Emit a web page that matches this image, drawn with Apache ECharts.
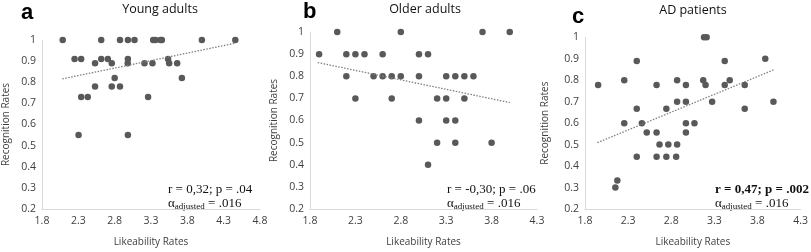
<!DOCTYPE html>
<html>
<head>
<meta charset="utf-8">
<script src="https://cdn.jsdelivr.net/npm/echarts@6/dist/echarts.min.js"></script>
<style>
  html, body { margin: 0; padding: 0; background: #fff; }
  #chart { width: 811px; height: 252px; }
</style>
</head>
<body>
<div id="chart"></div>
<script>
// panel a - young adults
var youngX = [2.085, 2.615, 2.873, 2.982, 3.073, 3.33, 3.36, 3.43, 3.45, 4.0, 4.46,
  2.248, 2.339, 2.615, 2.706, 2.982, 3.535,
  2.53, 2.76, 2.98, 3.21, 3.32, 3.55, 3.66,
  2.80, 3.725,
  2.53, 2.76, 2.873,
  2.339, 2.43, 3.26,
  2.303, 2.982];
var youngY = [1, 1, 1, 1, 1, 1, 1, 1, 1, 1, 1,
  0.91, 0.91, 0.91, 0.91, 0.91, 0.91,
  0.89, 0.89, 0.89, 0.89, 0.89, 0.89, 0.89,
  0.82, 0.82,
  0.78, 0.78, 0.78,
  0.73, 0.73, 0.73,
  0.55, 0.55];
var youngTrendX = [2.08, 4.46];
var youngTrendY = [0.816, 0.985];

// panel b - older adults
var olderX = [2.1, 2.8, 3.7, 4.0,
  1.9, 2.2, 2.3, 2.4, 2.6, 3.0, 3.1,
  2.2, 2.5, 2.6, 2.7, 2.8, 3.0, 3.3, 3.4, 3.5, 3.6,
  2.3, 2.7, 3.2, 3.3, 3.5,
  3.0, 3.3, 3.4,
  3.2, 3.4, 3.8,
  3.1];
var olderY = [1, 1, 1, 1,
  0.9, 0.9, 0.9, 0.9, 0.9, 0.9, 0.9,
  0.8, 0.8, 0.8, 0.8, 0.8, 0.8, 0.8, 0.8, 0.8, 0.8,
  0.7, 0.7, 0.7, 0.7, 0.7,
  0.6, 0.6, 0.6,
  0.5, 0.5, 0.5,
  0.4];
var olderTrendX = [1.885, 4.0];
var olderTrendY = [0.862, 0.681];

// panel c - AD patients
var adX = [3.18, 3.21,
  2.40, 3.42, 3.89,
  2.255, 2.868, 3.171, 3.478,
  1.952, 2.63, 2.97, 3.198, 3.42, 3.652,
  2.868, 2.97, 3.274, 3.985,
  2.40, 2.743, 3.652,
  2.255, 2.459, 2.97, 3.069,
  2.516, 2.63, 2.97,
  2.664, 2.766, 2.868,
  2.40, 2.63, 2.743, 2.857,
  2.175, 2.152];
var adY = [1, 1,
  0.889, 0.889, 0.9,
  0.8, 0.8, 0.8, 0.8,
  0.778, 0.778, 0.778, 0.778, 0.778, 0.778,
  0.7, 0.7, 0.7, 0.7,
  0.667, 0.667, 0.667,
  0.6, 0.6, 0.6, 0.6,
  0.556, 0.556, 0.556,
  0.5, 0.5, 0.5,
  0.444, 0.444, 0.444, 0.444,
  0.333, 0.3];
var adTrendX = [1.944, 3.985];
var adTrendY = [0.509, 0.848];

var yTicks = { min: 0.2, max: 1, interval: 0.1 };
var xStart = 1.8, xStep = 0.5;
var xEnds = [4.8, 4.3, 4.3];

var titles = ['Young adults', 'Older adults', 'AD patients'];
var letters = ['a', 'b', 'c'];
var stats = ['r = 0,32; p = .04', 'r = -0,30; p = .06', 'r = 0,47; p = .002'];

function pairs(xs, ys) {
  return xs.map(function (x, i) { return [x, ys[i]]; });
}

var chart = echarts.init(document.getElementById('chart'));

var grids = [
  { left: 39, top: 40, width: 221, height: 176.7 },
  { left: 310, top: 32, width: 227, height: 184 },
  { left: 585, top: 37.3, width: 220, height: 176 }
];
var yNameGap = [31, 31, 35];

var axisLine = { show: true, lineStyle: { color: '#d9d9d9', width: 1 } };
var labelFont = { color: '#404040', fontSize: 10.5, fontFamily: 'Open Sans' };
var nameFont = { color: '#404040', fontSize: 10, fontFamily: 'Open Sans' };

var xAxes = grids.map(function (g, i) {
  return {
    type: 'value', gridIndex: i,
    min: xStart, max: xEnds[i], interval: xStep,
    axisLine: axisLine, axisTick: { show: false }, splitLine: { show: false },
    axisLabel: Object.assign({ margin: 7, formatter: function (v) { return v.toFixed(1); } }, labelFont),
    name: 'Likeability Rates', nameLocation: 'middle', nameGap: 28,
    nameTextStyle: nameFont
  };
});
var yAxes = grids.map(function (g, i) {
  return {
    type: 'value', gridIndex: i,
    min: yTicks.min, max: yTicks.max, interval: yTicks.interval,
    axisLine: axisLine, axisTick: { show: false }, splitLine: { show: false },
    axisLabel: Object.assign({ margin: 6, formatter: function (v) { return String(+v.toFixed(1)); } }, labelFont),
    name: 'Recognition Rates', nameLocation: 'middle', nameGap: yNameGap[i],
    nameTextStyle: nameFont
  };
});

var scatterSets = [pairs(youngX, youngY), pairs(olderX, olderY), pairs(adX, adY)];
var trendSets = [pairs(youngTrendX, youngTrendY), pairs(olderTrendX, olderTrendY), pairs(adTrendX, adTrendY)];

var series = [];
scatterSets.forEach(function (d, i) {
  series.push({
    type: 'scatter', xAxisIndex: i, yAxisIndex: i, data: d,
    symbolSize: 6.5, itemStyle: { color: '#595959', opacity: 1 }, silent: true
  });
  series.push({
    type: 'line', xAxisIndex: i, yAxisIndex: i, data: trendSets[i],
    symbol: 'none', silent: true,
    lineStyle: { color: '#808080', width: 1.3, type: [1.5, 1.5] }
  });
});

// texts
var titleX = [160, 425, 693];
var titleY = [9, 9, 10];
var letterPos = [[21, 13], [303, 12], [572, 17]];
var statX = [168, 447, 715];
var statBold = [false, false, true];

var graphics = [];
titles.forEach(function (t, i) {
  graphics.push({ type: 'text', x: titleX[i], y: titleY[i], style: {
    text: t, fill: '#111', font: '12.5px "Open Sans"', align: 'center', verticalAlign: 'middle' } });
  graphics.push({ type: 'text', x: letterPos[i][0], y: letterPos[i][1], style: {
    text: letters[i], fill: '#000', font: 'bold 22px "Liberation Sans"', align: 'left', verticalAlign: 'middle' } });
  graphics.push({ type: 'text', x: statX[i], y: 190, style: {
    text: stats[i], fill: '#111', font: (statBold[i] ? 'bold ' : '') + '13px "Liberation Serif"',
    align: 'left', verticalAlign: 'middle' } });
  graphics.push({ type: 'text', x: statX[i], y: 204, style: {
    text: '{a|α}{s|adjusted}{a| = .016}', align: 'left', verticalAlign: 'middle',
    rich: {
      a: { fontFamily: 'Liberation Serif', fontSize: 13, fill: '#111' },
      s: { fontFamily: 'Liberation Serif', fontSize: 9, fill: '#111', padding: [6, 0, 0, 0] }
    } } });
});

chart.setOption({
  animation: false,
  grid: grids,
  xAxis: xAxes,
  yAxis: yAxes,
  series: series,
  graphic: graphics
});
</script>
</body>
</html>
